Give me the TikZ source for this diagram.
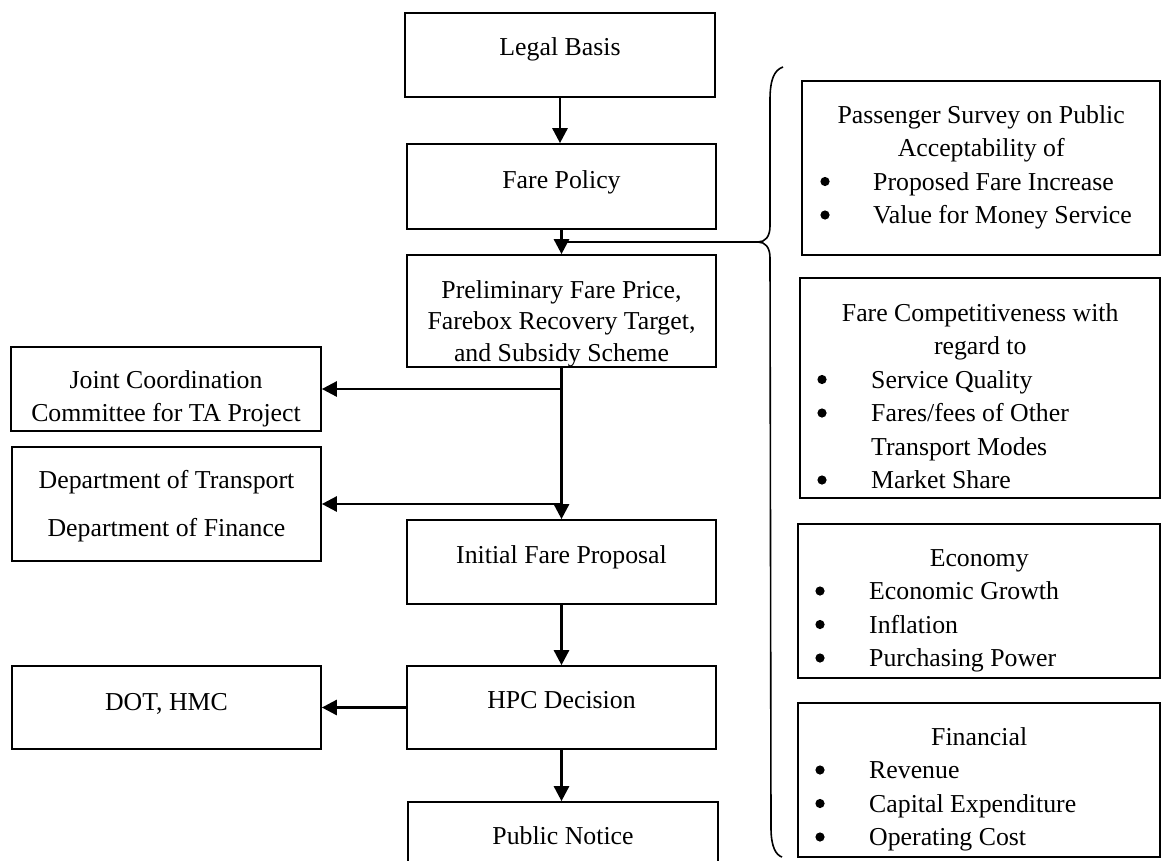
\documentclass[tikz,border=0pt]{standalone}
\usepackage{fontspec}
\setmainfont{Liberation Serif}
\usetikzlibrary{arrows.meta}

% item line inside a factor box (its bullet is drawn separately)
\newcommand\factoritem[1]{\par\noindent\hspace*{71pt}#1}

\tikzset{
  box/.style={draw, line width=1.7pt, inner sep=0pt},
  txt/.style={inner sep=0pt, anchor=base},
  conn/.style={line width=2.7pt, -{Triangle[width=15pt,length=15pt]}},
  bracestyle/.style={line width=1.6pt},
  bulletdot/.style={fill=black},
}

\begin{document}
\begin{tikzpicture}[x=1pt, y=-1pt, font=\fontsize{25.8}{33.5}\selectfont]
  \clip (0,0) rectangle (1162,860);
  \fill[white] (0,0) rectangle (1162,860);

  % main chain of steps
  \node[box, minimum width=310pt, minimum height=84pt]  (legal)   at (560,55)    {};
  \node[box, minimum width=309pt, minimum height=85pt]  (fare)    at (561.5,186.5) {};
  \node[box, minimum width=309pt, minimum height=112pt] (prelim)  at (561.5,311)  {};
  \node[box, minimum width=309pt, minimum height=84pt]  (initial) at (561.5,562)  {};
  \node[box, minimum width=309pt, minimum height=83pt]  (hpc)     at (561.5,707.5) {};
  \node[box, minimum width=310pt, minimum height=84pt]  (public)  at (563,844)    {};

  % consulted parties on the left
  \node[box, minimum width=310pt, minimum height=84pt]  (jcc)    at (166,389)   {};
  \node[box, minimum width=309pt, minimum height=114pt] (dept)   at (166.5,504) {};
  \node[box, minimum width=309pt, minimum height=83pt]  (dothmc) at (166.5,707.5) {};

  % factor boxes on the right
  \node[box, minimum width=358pt, minimum height=174pt] (survey)  at (981,168) {};
  \node[box, minimum width=360pt, minimum height=220pt] (compete) at (980,388) {};
  \node[box, minimum width=362pt, minimum height=154pt] (economy) at (979,601) {};
  \node[box, minimum width=362pt, minimum height=154pt] (finance) at (979,780) {};

  % labels of the steps
  \node[txt] (legalt)   at (560,55)  {Legal Basis};
  \node[txt] (faret)    at (561.5,188) {Fare Policy};
  \node[txt] (prelimt)  at (561.5,298) {\begin{tabular}[t]{@{}c@{}}Preliminary Fare Price,\\[-2pt] Farebox Recovery Target,\\[-2pt] and Subsidy Scheme\end{tabular}};
  \node[txt] (initialt) at (561.5,563) {Initial Fare Proposal};
  \node[txt] (hpct)     at (561.5,708) {HPC Decision};
  \node[txt] (publict)  at (563,844) {Public Notice};

  \node[txt] (jcct)    at (166,388) {\begin{tabular}[t]{@{}c@{}}Joint Coordination\\ Committee for TA Project\end{tabular}};
  \node[txt] (deptt)   at (166.5,488) {\begin{tabular}[t]{@{}c@{}}Department of Transport\\[14.5pt] Department of Finance\end{tabular}};
  \node[txt] (dothmct) at (166.5,710) {DOT, HMC};

  % factor texts
  \node[inner sep=0pt, anchor=base west] (surveyt) at (802,123) {\begin{minipage}[t]{358pt}\setlength\parskip{0pt}%
    {\centering Passenger Survey on Public\\ Acceptability of\par}%
    \factoritem{Proposed Fare Increase}%
    \factoritem{Value for Money Service}\end{minipage}};
  \node[inner sep=0pt, anchor=base west] (competet) at (800,321) {\begin{minipage}[t]{360pt}\setlength\parskip{0pt}%
    {\centering Fare Competitiveness with\\ regard to\par}%
    \factoritem{Service Quality}%
    \factoritem{Fares/fees of Other}%
    \factoritem{Transport Modes}%
    \factoritem{Market Share}\end{minipage}};
  \node[inner sep=0pt, anchor=base west] (economyt) at (798,566) {\begin{minipage}[t]{362pt}\setlength\parskip{0pt}%
    {\centering Economy\par}%
    \factoritem{Economic Growth}%
    \factoritem{Inflation}%
    \factoritem{Purchasing Power}\end{minipage}};
  \node[inner sep=0pt, anchor=base west] (financet) at (798,745) {\begin{minipage}[t]{362pt}\setlength\parskip{0pt}%
    {\centering Financial\par}%
    \factoritem{Revenue}%
    \factoritem{Capital Expenditure}%
    \factoritem{Operating Cost}\end{minipage}};

  % list bullets of the factor boxes
  \foreach \bx/\by in {825/181.5, 825/215,
                       822/379.5, 822/413, 822/480,
                       820/591, 820/624.5, 820/658,
                       820/770, 820/803.5, 820/837}
    \fill[bulletdot] (\bx,\by) circle (4.6pt);

  % brace gathering the factors
  \coordinate (bracetip) at (758,242);
  \draw[bracestyle] (783,67) .. controls (774,70) and (770,80) .. (770,100)
    -- (770,226) .. controls (770,237) and (765,242) .. (bracetip)
    .. controls (765,242) and (770,247) .. (770,258)
    -- (771,828) .. controls (771,847) and (776,855) .. (782,857);
  \draw[bracestyle] (bracetip) -- (bracetip -| fare.south);

  % connectors
  \draw[conn] (legal.south) -- (legal.south |- fare.north);
  \draw[conn] (fare.south) -- (prelim.north);
  \draw[conn] (prelim.south) -- (initial.north);
  \draw[conn] (prelim.south |- jcc.east) -- (jcc.east);
  \draw[conn] (prelim.south |- dept.east) -- (dept.east);
  \draw[conn] (initial.south) -- (hpc.north);
  \draw[conn] (hpc.west) -- (dothmc.east);
  \draw[conn] (hpc.south) -- (hpc.south |- public.north);
\end{tikzpicture}
\end{document}
